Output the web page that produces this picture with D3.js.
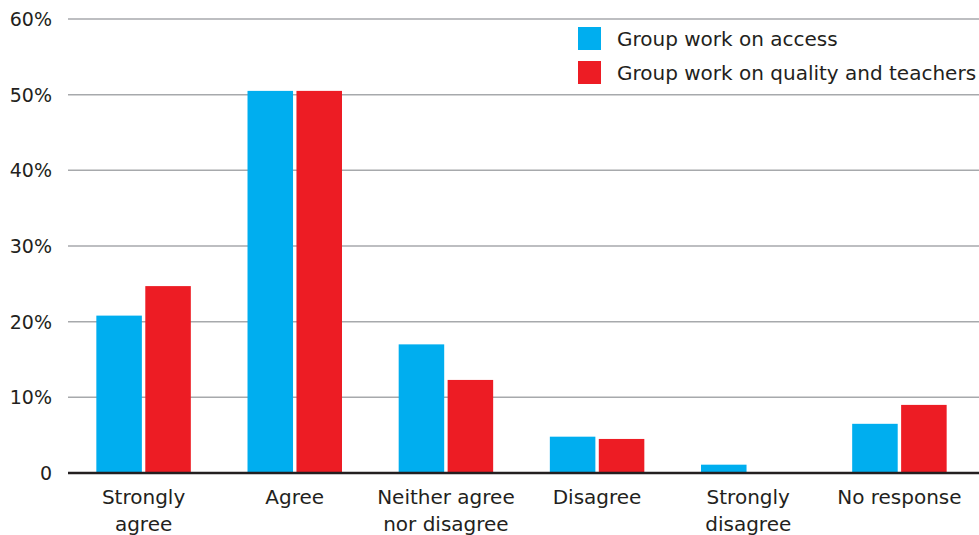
<html>
<head>
<script src="https://cdn.jsdelivr.net/npm/d3@7"></script>
<style>
  body { margin: 0; background: #fff; }
  svg text { font-family: "DejaVu Sans", sans-serif; fill: #231f20; }
</style>
</head>
<body>
<svg id="chart" width="979" height="535"></svg>
<script>
var categories = [["Strongly", "agree"], ["Agree"], ["Neither agree", "nor disagree"], ["Disagree"], ["Strongly", "disagree"], ["No response"]];
var seriesNames = ["Group work on access", "Group work on quality and teachers"];
var access = [20.8, 50.5, 17.0, 4.8, 1.1, 6.5];
var quality = [24.7, 50.5, 12.3, 4.5, 0, 9.0];
var yTicks = [0, 10, 20, 30, 40, 50, 60];
var colors = ["#00aeef", "#ed1c24"];

var svg = d3.select("#chart");
var plotLeft = 68, plotRight = 979, plotTop = 19, plotBottom = 473;

var keys = categories.map(function (c, i) { return i; });
var x0 = d3.scaleBand().domain(keys).range([plotLeft, 975]).paddingInner(0.375).paddingOuter(0.1875);
var x1 = d3.scaleBand().domain([0, 1]).range([0, x0.bandwidth()]).paddingInner(0.07);
var y = d3.scaleLinear().domain([0, 60]).range([plotBottom, plotTop]);

// gridlines
svg.selectAll(".grid").data(yTicks.filter(function (d) { return d > 0; }))
  .enter().append("line")
  .attr("x1", plotLeft).attr("x2", plotRight)
  .attr("y1", function (d) { return y(d); }).attr("y2", function (d) { return y(d); })
  .attr("stroke", "#a7a9ac").attr("stroke-width", 1.5);

// tick labels
svg.selectAll(".tick").data(yTicks).enter().append("text")
  .attr("x", 52).attr("y", function (d) { return y(d); })
  .attr("dy", "0.36em").attr("text-anchor", "end")
  .style("font-size", "19px")
  .text(function (d) { return d === 0 ? "0" : d + "%"; });

// bars
var data = [access, quality];
var groups = svg.selectAll(".grp").data(keys).enter().append("g")
  .attr("transform", function (d) { return "translate(" + x0(d) + ",0)"; });
groups.selectAll("rect").data(function (i) { return data.map(function (s, k) { return { k: k, v: s[i] }; }); })
  .enter().append("rect")
  .attr("x", function (d) { return x1(d.k); })
  .attr("width", x1.bandwidth())
  .attr("y", function (d) { return y(d.v); })
  .attr("height", function (d) { return plotBottom - y(d.v); })
  .attr("fill", function (d) { return colors[d.k]; });

// baseline
svg.append("line").attr("x1", plotLeft).attr("x2", plotRight).attr("y1", plotBottom).attr("y2", plotBottom)
  .attr("stroke", "#231f20").attr("stroke-width", 2.5);

// category labels
var lab = svg.selectAll(".cat").data(keys).enter().append("text")
  .attr("text-anchor", "middle")
  .attr("x", function (d) { return x0(d) + x0.bandwidth() / 2; })
  .attr("y", 504)
  .style("font-size", "20px");
lab.selectAll("tspan").data(function (i) { return categories[i]; }).enter().append("tspan")
  .attr("x", function () { var i = d3.select(this.parentNode).datum(); return x0(i) + x0.bandwidth() / 2; })
  .attr("dy", function (d, j) { return j === 0 ? 0 : 27; })
  .text(function (d) { return d; });

// legend
var leg = svg.selectAll(".leg").data(seriesNames).enter().append("g")
  .attr("transform", function (d, i) { return "translate(578," + (27 + i * 34) + ")"; });
leg.append("rect").attr("width", 23).attr("height", 23).attr("fill", function (d, i) { return colors[i]; });
leg.append("text").attr("x", 39).attr("y", 12).attr("dy", "0.36em")
  .style("font-size", "20px").text(function (d) { return d; });
</script>
</body>
</html>
